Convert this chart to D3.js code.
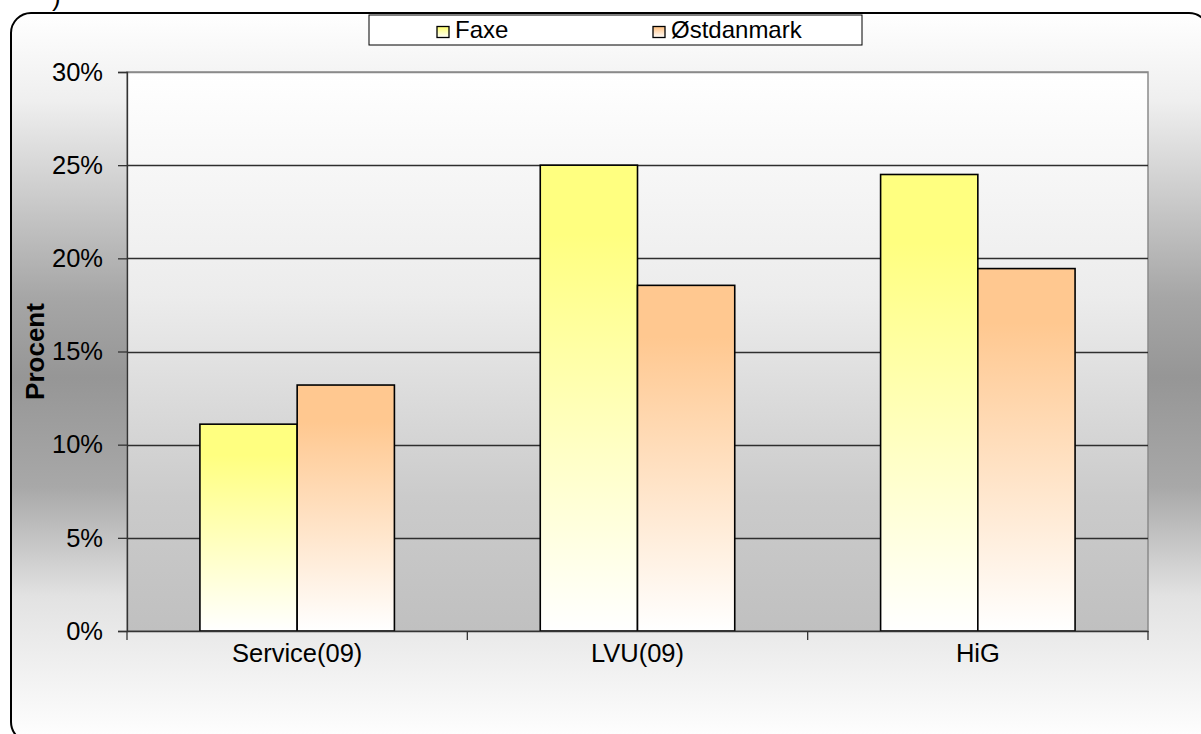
<!DOCTYPE html>
<html>
<head>
<meta charset="utf-8">
<script src="https://cdn.jsdelivr.net/npm/d3@7"></script>
<style>
  html, body { margin: 0; padding: 0; background: #fff; overflow: hidden; }
  svg { display: block; font-family: "Liberation Sans", Arial, sans-serif; }
</style>
</head>
<body>
<svg id="chart" width="1201" height="734"></svg>
<script>
// ---- data ----
const categories = ["Service(09)", "LVU(09)", "HiG"];
const seriesNames = ["Faxe", "Østdanmark"];
const faxeValues = [0.111, 0.250, 0.245];
const ostdanmarkValues = [0.132, 0.1855, 0.1945];
const yTicks = [0, 0.05, 0.10, 0.15, 0.20, 0.25, 0.30];
const yLabel = "Procent";

const seriesValues = [faxeValues, ostdanmarkValues];
const seriesColors = ["#ffff80", "#ffc890"];

(function () {
const svg = d3.select("#chart");
const defs = svg.append("defs");

// outer chart background gradient
const bg = defs.append("linearGradient").attr("id", "bgGrad")
  .attr("x1", 0).attr("y1", 0).attr("x2", 0).attr("y2", 1);
[[0, "#ffffff"], [0.12, "#efefef"], [0.39, "#a6a6a6"], [0.5, "#969696"],
 [0.65, "#a8a8a8"], [0.8, "#e2e2e2"], [1, "#ffffff"]]
  .forEach(([o, c]) => bg.append("stop").attr("offset", o).attr("stop-color", c));

// plot area gradient
const pg = defs.append("linearGradient").attr("id", "plotGrad")
  .attr("x1", 0).attr("y1", 0).attr("x2", 0).attr("y2", 1);
[[0, "#ffffff"], [0.4, "#ececec"], [0.76, "#cbcbcb"], [1, "#c0c0c0"]]
  .forEach(([o, c]) => pg.append("stop").attr("offset", o).attr("stop-color", c));

seriesColors.forEach((c, i) => {
  const g = defs.append("linearGradient").attr("id", "barGrad" + i)
    .attr("x1", 0).attr("y1", 0).attr("x2", 0).attr("y2", 1);
  g.append("stop").attr("offset", 0).attr("stop-color", c);
  g.append("stop").attr("offset", 0.15).attr("stop-color", c);
  g.append("stop").attr("offset", 1).attr("stop-color", "#ffffff");
});

// partially visible title character (clipped at the top, as in the reference)
svg.append("text").attr("x", 52).attr("y", 6).attr("font-size", 26).text(")");

// chart border
svg.append("rect").attr("x", 11).attr("y", 13).attr("width", 1198).attr("height", 729)
  .attr("rx", 20).attr("ry", 20)
  .attr("fill", "url(#bgGrad)").attr("stroke", "#000").attr("stroke-width", 2);

// plot geometry
const pLeft = 127, pRight = 1148, pTop = 72, pBottom = 631;

const x0 = d3.scaleBand().domain(categories).range([pLeft, pRight])
  .paddingInner(1.5 / 3.5).paddingOuter(0.75 / 3.5);
const x1 = d3.scaleBand().domain(seriesNames).range([0, x0.bandwidth()]);
const y = d3.scaleLinear().domain([0, 0.3]).range([pBottom, pTop]);

// plot area
svg.append("rect").attr("x", pLeft).attr("y", pTop)
  .attr("width", pRight - pLeft).attr("height", pBottom - pTop)
  .attr("fill", "url(#plotGrad)").attr("stroke", "#8a8a8a").attr("stroke-width", 1.5);

// gridlines
svg.append("g").selectAll("line").data(yTicks.filter(t => t > 0)).join("line")
  .attr("x1", pLeft).attr("x2", pRight)
  .attr("y1", d => Math.round(y(d)) + 0.5).attr("y2", d => Math.round(y(d)) + 0.5)
  .attr("stroke", d => d === 0.3 ? "#8a8a8a" : "#2e2e2e").attr("stroke-width", 1.3);

// bars
const groups = svg.append("g").selectAll("g").data(categories).join("g")
  .attr("transform", d => `translate(${x0(d)},0)`);
groups.selectAll("rect")
  .data((d, ci) => seriesNames.map((s, si) => ({ s, si, v: seriesValues[si][ci] })))
  .join("rect")
  .attr("x", d => x1(d.s))
  .attr("y", d => y(d.v))
  .attr("width", x1.bandwidth())
  .attr("height", d => y(0) - y(d.v))
  .attr("fill", d => "url(#barGrad" + d.si + ")")
  .attr("stroke", "#000").attr("stroke-width", 1.6);

// y axis
const yAxis = d3.axisLeft(y).tickValues(yTicks).tickFormat(d3.format(".0%"))
  .tickSize(9).tickPadding(15);
const gy = svg.append("g").attr("transform", `translate(${pLeft},0)`).call(yAxis);
gy.select(".domain").attr("stroke", "#333").attr("stroke-width", 1.3);
gy.selectAll(".tick line").attr("stroke", "#333").attr("stroke-width", 1.3);
gy.selectAll(".tick text").attr("font-size", 25.5).attr("fill", "#000")
  .attr("font-family", "Liberation Sans, Arial, sans-serif");

// x axis
const xAxis = d3.axisBottom(x0).tickSize(0).tickPadding(0);
const gx = svg.append("g").attr("transform", `translate(0,${pBottom})`).call(xAxis);
gx.select(".domain").attr("stroke", "#333").attr("stroke-width", 1.3);
gx.selectAll(".tick text").attr("font-size", 25.5).attr("fill", "#000")
  .attr("dy", 0).attr("y", 31)
  .attr("font-family", "Liberation Sans, Arial, sans-serif");
// category boundary ticks
const boundaries = [pLeft].concat(categories.map(c => x0(c) + x0.bandwidth() + x0.step() * x0.paddingInner() / 2));
boundaries[boundaries.length - 1] = pRight;
gx.selectAll(".bnd").data(boundaries).join("line").attr("class", "bnd")
  .attr("x1", d => d).attr("x2", d => d).attr("y1", 0).attr("y2", 9)
  .attr("stroke", "#333").attr("stroke-width", 1.3);

// y label
svg.append("text").attr("transform", `translate(44,${(pTop + pBottom) / 2}) rotate(-90)`)
  .attr("text-anchor", "middle").attr("font-size", 26).attr("font-weight", "bold")
  .text(yLabel);

// legend
const lg = svg.append("g");
lg.append("rect").attr("x", 369).attr("y", 15).attr("width", 493).attr("height", 30)
  .attr("fill", "#fff").attr("stroke", "#000").attr("stroke-width", 1);
const legendX = [437, 653];
seriesNames.forEach((s, i) => {
  lg.append("rect").attr("x", legendX[i]).attr("y", 26.5).attr("width", 12).attr("height", 11)
    .attr("fill", "url(#barGrad" + i + ")").attr("stroke", "#000").attr("stroke-width", 1.3);
  lg.append("text").attr("x", legendX[i] + 18).attr("y", 38).attr("font-size", 24)
    .text(s);
});
})();
</script>
</body>
</html>
